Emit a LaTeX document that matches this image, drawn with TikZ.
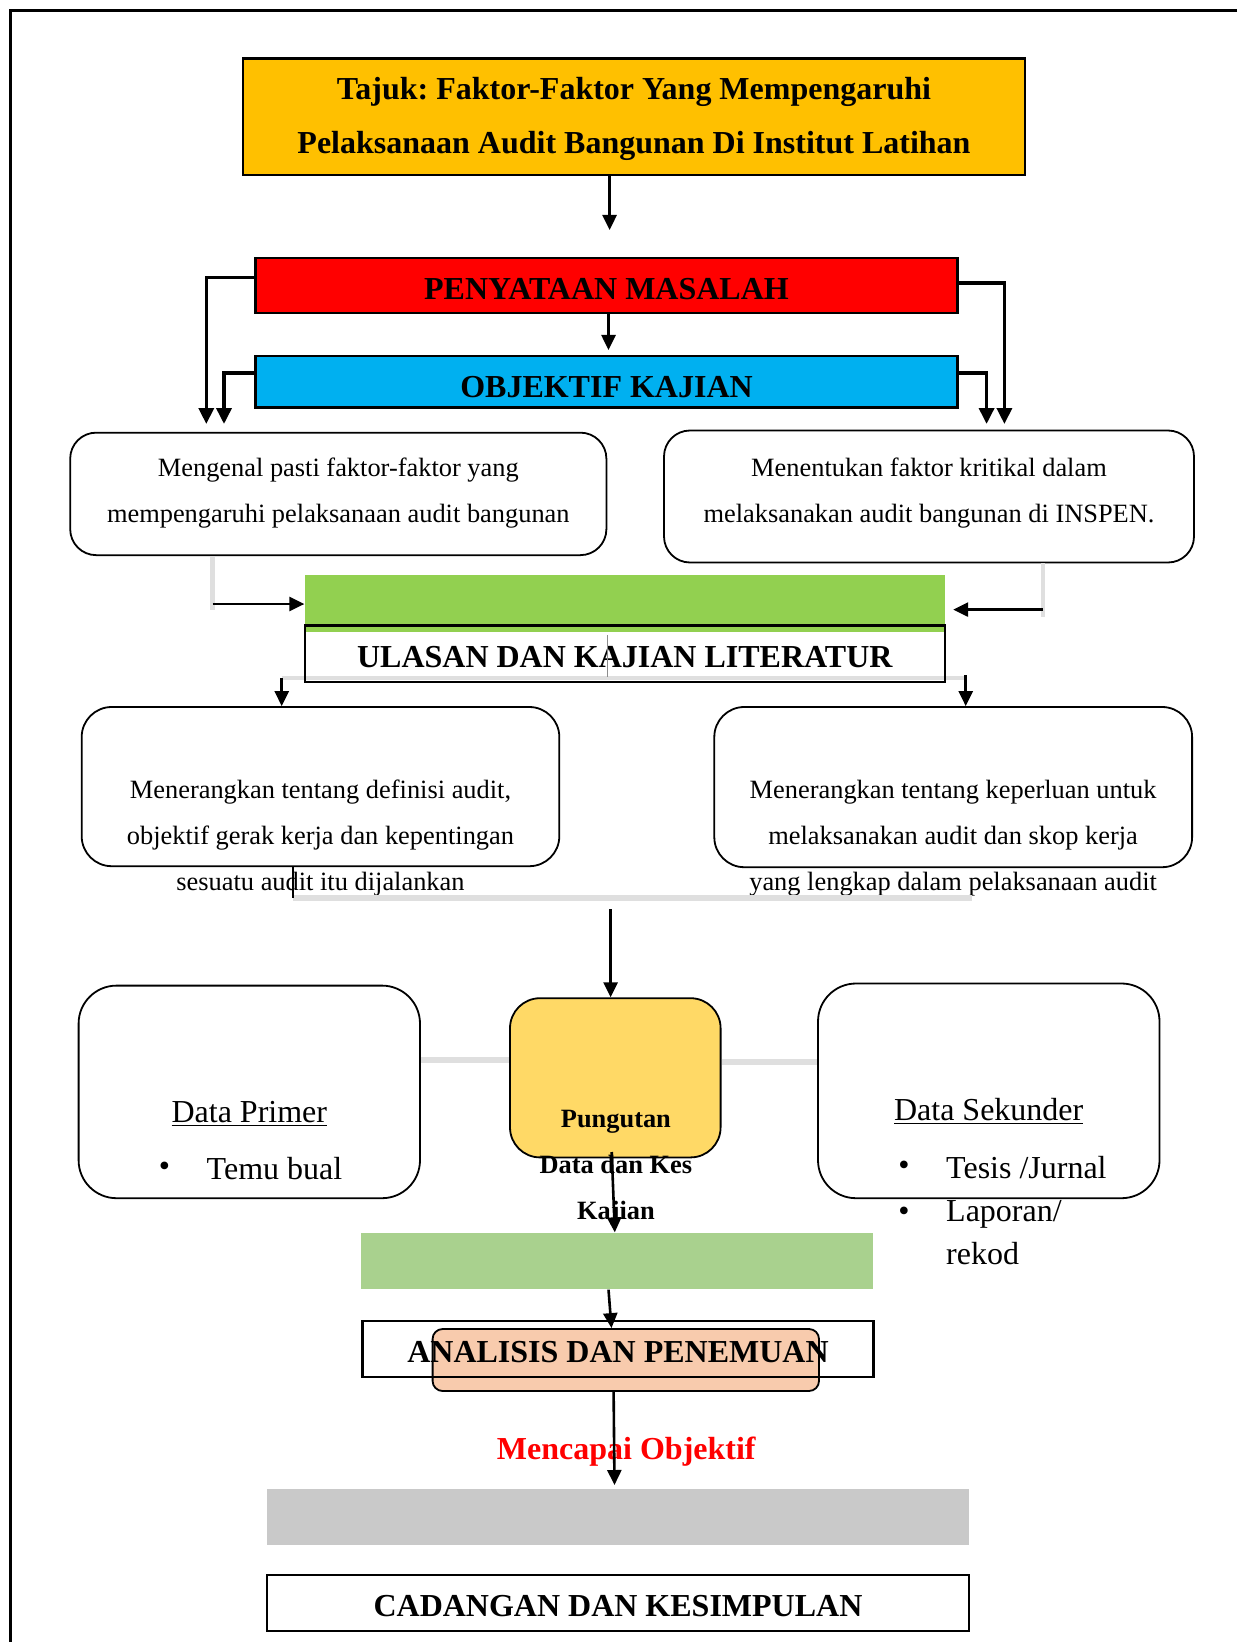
\documentclass[tikz,border=0pt]{standalone}
\usepackage{fontspec}
\setmainfont{Liberation Serif}
\usetikzlibrary{arrows.meta}
\frenchspacing
\definecolor{tajuk}{HTML}{FFC000}
\definecolor{redB}{HTML}{FF0000}
\definecolor{cyanB}{HTML}{00B0F0}
\definecolor{greenA}{HTML}{92D050}
\definecolor{pungC}{HTML}{FFD966}
\definecolor{greenL}{HTML}{A9D18E}
\definecolor{peachC}{HTML}{F8CBAD}
\definecolor{grayB}{HTML}{C9C9C9}
\definecolor{shadeC}{HTML}{DFDFDF}
\tikzset{
  hbox/.style={draw=black, line width=1.2pt, inner sep=0pt, text height=13.8pt, text depth=0pt, font=\fontsize{16}{19}\selectfont\bfseries},
  rbox/.style={draw=black, line width=0.9pt, rounded corners=13pt, inner sep=0pt},
  body/.style={font=\fontsize{13.2}{23}\selectfont, align=center, inner sep=0pt},
  big/.style={font=\fontsize{16}{19}\selectfont, inner sep=0pt},
  arr/.style={-{Triangle[length=7.5pt,width=7pt]}, line width=1.3pt},
  sidearr/.style={-{Triangle[length=8pt,width=7.5pt]}, line width=1.8pt},
  shade/.style={draw=shadeC, line width=2.2pt},
}
\begin{document}
\begin{tikzpicture}[x=0.5pt,y=-0.5pt]
\useasboundingbox (0,0) rectangle (1237,1642);
% frame
\draw[line width=1.6pt] (1237,10.5) -- (10.5,10.5) -- (10.5,1642);

% title
\node[draw=black, line width=1.2pt, fill=tajuk, minimum width=391pt, minimum height=58.2pt, inner sep=0pt] (title) at (634,116.9) {};
\node[align=center, inner sep=0pt, font=\fontsize{16}{27.2}\selectfont\bfseries] (titlet) at (634,119)
  {Tajuk: Faktor-Faktor Yang Mempengaruhi\\Pelaksanaan Audit Bangunan Di Institut Latihan};
\node[hbox, fill=redB, minimum width=350.9pt, minimum height=27.75pt] (pen) at (606.5,285.5) {PENYATAAN MASALAH};
\node[hbox, fill=cyanB, minimum width=350.9pt, minimum height=25.7pt, text height=15.6pt] (obj) at (606.5,381.7) {OBJEKTIF KAJIAN};

\coordinate (t1) at (609.6,230);
\draw[arr] (title.south -| t1) -- (t1);
\coordinate (t2) at (608.5,350);
\draw[arr] (pen.south -| t2) -- (t2);

% boxes row 1
\node[rbox, minimum width=268.1pt, minimum height=61.25pt] (m1) at (338.3,493.9) {};
\node[body] (m1t) at (338.3,492.8) {Mengenal pasti faktor-faktor yang\\mempengaruhi pelaksanaan audit bangunan};
\node[rbox, minimum width=265pt, minimum height=66pt] (m2) at (929,496.5) {};
\node[body] (m2t) at (929,492.8) {Menentukan faktor kritikal dalam\\melaksanakan audit bangunan di INSPEN.};

% side connectors
\coordinate (lA) at (206.3,424);
\coordinate (lB) at (224,424);
\coordinate (rA) at (1004.4,424);
\coordinate (rB) at (986.6,424);
\draw[sidearr] (pen.west |- 0,277.5) -| (lA);
\draw[sidearr] (obj.west |- 0,372.9) -| (lB);
\draw[sidearr] (pen.east |- 0,282.8) -| (rA);
\draw[sidearr] (obj.east |- 0,372.9) -| (rB);

% literature
\node[fill=greenA, minimum width=320pt, minimum height=28.3pt, inner sep=0pt] (grn) at (624.8,603.3) {};
\coordinate (u1) at (281.7,678);
\coordinate (u2) at (965.7,678);
\draw[shade] (u1) -- (u2);
\node[hbox, minimum width=320pt, minimum height=28.3pt] (ula) at (624.8,653.6) {ULASAN DAN KAJIAN LITERATUR};
\draw[black!45, line width=0.4pt] (607,635) -- (607,677);

\coordinate (c1) at (212.6,604);
\draw[shade] (m1.south -| c1) -- (212.6,610);
\draw[arr] (c1) -- (grn.west |- c1);
\coordinate (c2) at (1043,609.6);
\draw[shade] (m2.south -| c2) -- (1043,617);
\draw[arr] (c2) -- ([xshift=4pt]grn.east |- c2);

% row 2 boxes
\node[rbox, rounded corners=15pt, minimum width=238.8pt, minimum height=79.6pt] (l2) at (320.5,786.6) {};
\node[rbox, rounded corners=15pt, minimum width=238.9pt, minimum height=80.1pt] (r2) at (953.2,787.1) {};
\node[body] (l2t) at (320.5,838) {Menerangkan tentang definisi audit,\\objektif gerak kerja dan kepentingan\\sesuatu audit itu dijalankan};
\node[body] (r2t) at (953.1,838) {Menerangkan tentang keperluan untuk\\melaksanakan audit dan skop kerja\\yang lengkap dalam pelaksanaan audit};
\draw[arr] (u1) -- (l2.north -| u1);
\draw[arr] (965.7,675) -- (r2.north -| u2);

\coordinate (jn) at (293,898);
\coordinate (jn2) at (971.5,898);
\draw[shade, line width=2.6pt] (jn) -- (jn2);
\draw[line width=1pt] (l2.south -| jn) -- (jn);

% data collection
\node[rbox, rounded corners=19pt, minimum width=170.7pt, minimum height=106.3pt] (dp) at (249.3,1091.9) {};
\node[rbox, fill=pungC, rounded corners=15pt, minimum width=105.3pt, minimum height=79.6pt] (pung) at (615.3,1077.8) {};
\node[rbox, rounded corners=19pt, minimum width=170.75pt, minimum height=107.35pt] (ds) at (988.75,1090.85) {};
\draw[shade, line width=3pt] (dp.east |- 0,1060) -- (pung.west |- 0,1060);
\draw[shade, line width=3pt] (pung.east |- 0,1062) -- (ds.west |- 0,1062);

\coordinate (st) at (610.6,909);
\draw[arr] (st) -- (pung.north -| st);

\node[body, font=\fontsize{13.2}{23}\selectfont\bfseries] (pungt) at (615.9,1167.8) {Pungutan\\Data dan Kes\\Kajian};

\node[big] (dpt) at (249.3,1114.3) {\underline{Data Primer}};
\node[big] (b1) at (164.4,1168.8) {\textbullet};
\node[big, anchor=west] (b1t) at (206.3,1168.8) {Temu bual};
\node[big] (dst) at (988.7,1111.3) {\underline{Data Sekunder}};
\node[big] (b2) at (904,1167.8) {\textbullet};
\node[big, anchor=west] (b2t) at (945.8,1167.8) {Tesis /Jurnal};
\node[big] (b3) at (904,1213.9) {\textbullet};
\node[big, anchor=west] (b3t) at (945.8,1214.5) {Laporan/};
\node[big, anchor=west] (b4t) at (945.8,1253.5) {rekod};

% analysis
\node[fill=greenL, minimum width=255.55pt, minimum height=28.25pt, inner sep=0pt] (lg) at (617,1261) {};
\coordinate (p1) at (611.7,1152);
\coordinate (p2) at (614.8,0);
\draw[arr] (p1) -- (lg.north -| p2);

\node[draw=black, line width=0.9pt, fill=peachC, rounded corners=5pt, minimum width=193.2pt, minimum height=31pt, inner sep=0pt] (pe) at (625.8,1360) {};
\node[hbox, minimum width=255.55pt, minimum height=28.25pt] (an) at (618,1349) {ANALISIS DAN PENEMUAN};
\coordinate (g1) at (608.5,0);
\coordinate (g2) at (611.5,0);
\draw[arr] (lg.south -| g1) -- (pe.north -| g2);

\node[font=\fontsize{16}{19}\selectfont\bfseries, text=redB, inner sep=0pt] (mo) at (626.3,1451.8) {Mencapai Objektif};

\node[fill=grayB, minimum width=351pt, minimum height=27.8pt, inner sep=0pt] (gb) at (618,1517.2) {};
\coordinate (h1) at (613.6,0);
\coordinate (h2) at (614.5,1485);
\draw[arr] (pe.south -| h1) -- (h2);

\node[hbox, fill=white, minimum width=351pt, minimum height=27.75pt] (cad) at (618,1603) {CADANGAN DAN KESIMPULAN};
\end{tikzpicture}
\end{document}
